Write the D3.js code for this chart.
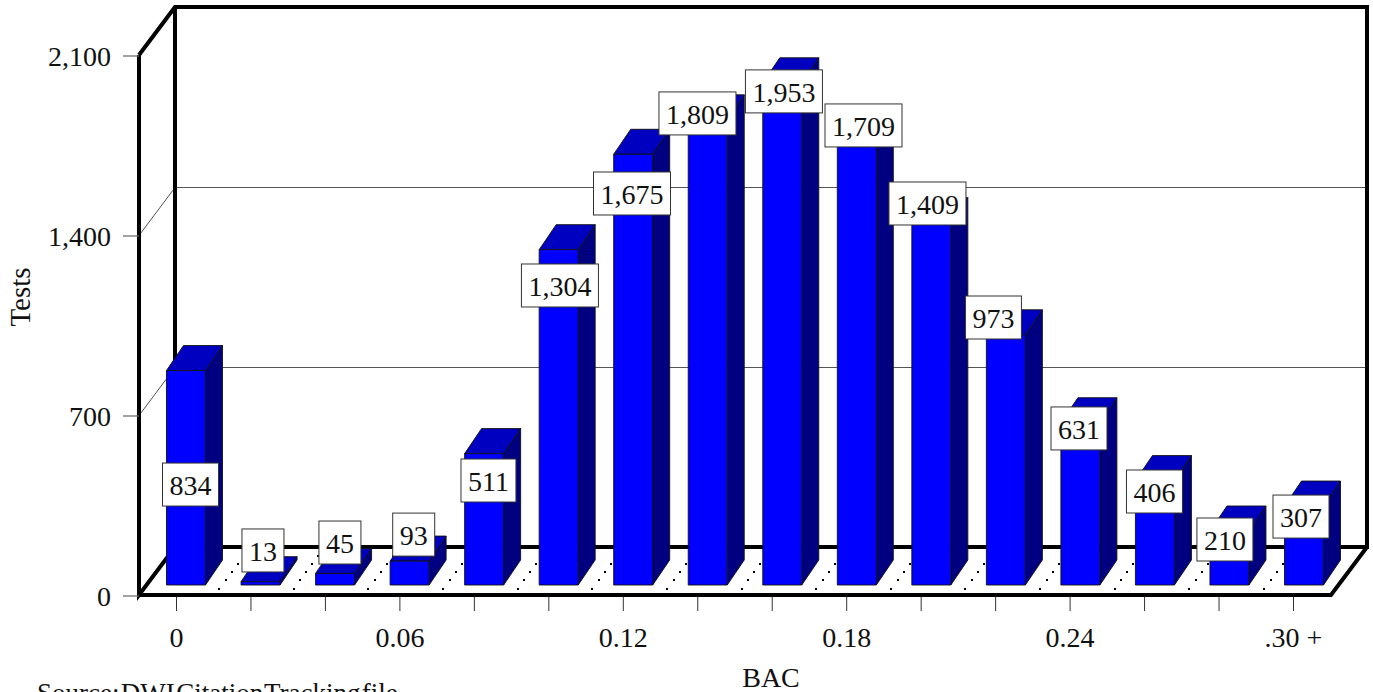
<!DOCTYPE html>
<html>
<head>
<meta charset="utf-8">
<style>
html,body{margin:0;padding:0;background:#fff;overflow:hidden}
svg{display:block}
text{font-family:"Liberation Serif","Times New Roman",serif;fill:#111}
</style>
<script src="https://cdn.jsdelivr.net/npm/d3@7"></script>
</head>
<body>
<svg id="c" width="1373" height="692"></svg>
<script>
// ---- data ----
const categories = ["0","0.02","0.04","0.06","0.08","0.10","0.12","0.14","0.16","0.18","0.20","0.22","0.24","0.26","0.28",".30 +"];
const tests = [834,13,45,93,511,1304,1675,1809,1953,1709,1409,973,631,406,210,307];
const shownLabels = ["0","0.06","0.12","0.18","0.24",".30 +"];
const yTicks = [0,700,1400,2100];
const xTitle = "BAC", yTitle = "Tests", sourceNote = "Source: DWI Citation Tracking file";

// ---- label placement (manual callouts, relative to each bar) ----
const labelShiftX = [14.5,12.5,15,14.3,14.6,11.6,9.2,0.2,12.2,17.3,6.8,-1.7,9.4,10.4,6.4,8];
const labelShiftY = [92.5,-52.7,-52.4,-48,5.4,14.3,17.7,-27.9,-12.9,-41.6,-40.7,-38.8,-15.8,-10.6,-13,-11];

// ---- layout ----
const F = 28;
const plotLeft = 139, plotRight = 1331, plotBottom = 595, plotTop = 55;
const wallDx = 36, wallDy = 48;      // depth of the chart box
const barDx = 17, barDy = 25;        // depth of a bar
const barW = 39, baseLift = 10;

const svg = d3.select("#c");
const y = d3.scaleLinear().domain([0,2100]).range([plotBottom,plotTop]);
const x = d3.scalePoint().domain(categories).range([176,1293]);
const barX = d3.scalePoint().domain(categories).range([166.5,1284.5]);
const dotX = d3.scalePoint().domain(categories.slice(0,15)).range([219,1264]);
const dotRows = [589,580,572,564,556];

// grid on the walls
const grid = svg.append("g").attr("stroke","#555").attr("stroke-width",1).attr("fill","none");
yTicks.filter(t=>t>0 && t<2100).forEach(t=>{
  const p = Math.round(y(t));
  grid.append("path").attr("d",`M${plotLeft},${p+0.5}L${plotLeft+wallDx},${p-wallDy+0.5}L${plotRight+wallDx},${p-wallDy+0.5}`);
});

// floor dots
const dots = svg.append("g").attr("fill","#000");
dotX.domain().forEach(c=>{
  dotRows.forEach(r=>{
    dots.append("rect")
      .attr("x",Math.round(dotX(c)+(589-r)*0.75)-1).attr("y",r-1)
      .attr("width",2).attr("height",2);
  });
});

// box frame
const boxFrame = svg.append("g").attr("fill","none").attr("stroke","#000").attr("stroke-width",4).attr("stroke-linejoin","miter");
const bx = plotLeft+wallDx, by = plotBottom-wallDy, tx = plotTop-wallDy;
boxFrame.append("path").attr("d",`M${plotLeft},${plotTop}L${bx},${tx}L${plotRight+wallDx},${tx}L${plotRight+wallDx},${by}L${bx},${by}`);
boxFrame.append("path").attr("d",`M${bx},${tx}L${bx},${by}L${plotLeft},${plotBottom}L${plotLeft},${plotTop}`);
boxFrame.append("path").attr("d",`M${plotLeft},${plotBottom}L${plotRight},${plotBottom}L${plotRight+wallDx},${by}`);

// bars
const bars = svg.append("g").selectAll("g").data(categories).join("g")
  .attr("stroke","#111").attr("stroke-width",0.9).attr("stroke-linejoin","round");
bars.each(function(c,i){
  const g = d3.select(this);
  const x0 = barX(c), x1 = x0+barW;
  const yt = y(tests[i])-baseLift, yb = plotBottom-baseLift;
  g.append("path").attr("fill","#000080")
    .attr("d",`M${x1},${yt}L${x1+barDx},${yt-barDy}L${x1+barDx},${yb-barDy}L${x1},${yb}Z`);
  g.append("path").attr("fill","#0000c0")
    .attr("d",`M${x0},${yt}L${x0+barDx},${yt-barDy}L${x1+barDx},${yt-barDy}L${x1},${yt}Z`);
  g.append("rect").attr("fill","#0000ff").attr("x",x0).attr("y",yt).attr("width",barW).attr("height",yb-yt);
});

// axes
const yAxis = d3.axisLeft(y).tickValues(yTicks).tickFormat(d3.format(",")).tickSize(16).tickPadding(12);
const gy = svg.append("g").attr("transform",`translate(${plotLeft},0.5)`).call(yAxis);
gy.select(".domain").remove();
gy.selectAll("line").attr("stroke","#666").attr("stroke-width",1.2);
gy.selectAll("text").attr("font-size",F).attr("dy",null).attr("y",10).attr("fill","#111");

const xAxis = d3.axisBottom(x).tickFormat(c=>shownLabels.includes(c)?c:"").tickSize(14).tickPadding(0);
const gx = svg.append("g").attr("transform",`translate(0,597)`).call(xAxis);
gx.select(".domain").remove();
gx.selectAll("line").attr("stroke","#333").attr("stroke-width",1);
gx.selectAll("text").attr("font-size",F).attr("dy",null).attr("y",50).attr("fill","#111");

// titles
svg.append("text").attr("x",771).attr("y",687).attr("text-anchor","middle").attr("font-size",F).text(xTitle);
svg.append("text").attr("transform","translate(30,297) rotate(-90)").attr("text-anchor","middle").attr("font-size",29).text(yTitle);
svg.append("text").attr("x",37).attr("y",702).attr("font-size",27).attr("word-spacing",-5.4).text(sourceNote);

// value labels
const labels = svg.append("g");
categories.forEach((c,i)=>{
  const g = labels.append("g");
  const cx = x(c)+labelShiftX[i];
  const topY = y(tests[i])-baseLift+labelShiftY[i];
  const t = g.append("text").attr("x",cx).attr("y",topY+32).attr("text-anchor","middle")
    .attr("font-size",F).text(d3.format(",")(tests[i]));
  const w = t.node().getComputedTextLength()+14;
  g.insert("rect","text").attr("x",cx-w/2).attr("y",topY).attr("width",w).attr("height",43)
    .attr("fill","#fff").attr("stroke","#333").attr("stroke-width",1);
});
</script>
</body>
</html>
